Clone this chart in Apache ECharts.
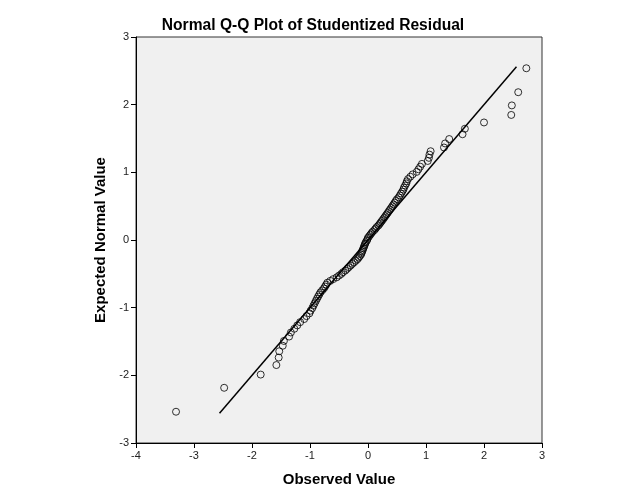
<!DOCTYPE html>
<html>
<head>
<meta charset="utf-8">
<script src="https://cdn.jsdelivr.net/npm/echarts@6/dist/echarts.min.js"></script>
<style>html,body{margin:0;padding:0;background:#fff}#c{width:629px;height:504px}</style>
</head>
<body>
<div id="c"></div>
<script>
// Observed studentized residuals (x), sorted ascending
var observed = [
 -3.31, -2.48, -1.85, -1.58, -1.54, -1.53, -1.47, -1.45, -1.36, -1.33,
 -1.27, -1.22, -1.17, -1.10, -1.06, -1.01, -0.99, -0.96, -0.94, -0.92,
 -0.90, -0.88, -0.86, -0.84, -0.82, -0.79, -0.76, -0.74, -0.72, -0.70,
 -0.65, -0.60, -0.54, -0.50, -0.46, -0.43, -0.39, -0.36, -0.33, -0.30,
 -0.27, -0.24, -0.21, -0.18, -0.16, -0.14, -0.12, -0.11, -0.10, -0.09,
 -0.08, -0.07, -0.06, -0.05, -0.04, -0.02, -0.01, 0.00, 0.02, 0.04,
 0.06, 0.08, 0.11, 0.13, 0.15, 0.18, 0.20, 0.22, 0.24, 0.26,
 0.28, 0.30, 0.32, 0.34, 0.36, 0.38, 0.40, 0.42, 0.44, 0.46,
 0.48, 0.50, 0.53, 0.55, 0.57, 0.59, 0.61, 0.62, 0.64, 0.66,
 0.67, 0.69, 0.73, 0.77, 0.84, 0.87, 0.90, 0.93, 1.03, 1.05,
 1.06, 1.08, 1.31, 1.33, 1.40, 1.63, 1.67, 2.00, 2.47, 2.48,
 2.59, 2.73
];
// Expected normal values (y), in the same order
var expected = [
 -2.538, -2.184, -1.989, -1.848, -1.737, -1.644, -1.563, -1.492, -1.427, -1.367,
 -1.312, -1.262, -1.214, -1.168, -1.125, -1.084, -1.045, -1.007, -0.970, -0.935,
 -0.901, -0.868, -0.836, -0.805, -0.774, -0.744, -0.715, -0.687, -0.659, -0.631,
 -0.604, -0.578, -0.552, -0.526, -0.501, -0.475, -0.451, -0.426, -0.401, -0.377,
 -0.353, -0.330, -0.306, -0.283, -0.260, -0.237, -0.214, -0.191, -0.168, -0.146,
 -0.123, -0.101, -0.078, -0.056, -0.034, -0.011, 0.011, 0.034, 0.056, 0.078,
 0.101, 0.123, 0.146, 0.168, 0.191, 0.214, 0.237, 0.260, 0.283, 0.306,
 0.330, 0.353, 0.377, 0.401, 0.426, 0.451, 0.475, 0.501, 0.526, 0.552,
 0.578, 0.604, 0.631, 0.659, 0.687, 0.715, 0.744, 0.774, 0.805, 0.836,
 0.868, 0.901, 0.935, 0.970, 1.007, 1.045, 1.084, 1.125, 1.168, 1.214,
 1.262, 1.312, 1.367, 1.427, 1.492, 1.563, 1.644, 1.737, 1.848, 1.989,
 2.184, 2.538
];
// Reference line endpoints
var refX = [-2.56, 2.56];
var refY = [-2.56, 2.56];
var xTicks = [-4, -3, -2, -1, 0, 1, 2, 3];
var yTicks = [-3, -2, -1, 0, 1, 2, 3];

var pts = observed.map(function (v, i) { return [v, expected[i]]; });
var ref = refX.map(function (v, i) { return [v, refY[i]]; });

var font = 'Liberation Sans, Arial, sans-serif';
var chart = echarts.init(document.getElementById('c'), null, {renderer: 'canvas'});
chart.setOption({
  animation: false,
  backgroundColor: '#ffffff',
  title: {
    text: 'Normal Q-Q Plot of Studentized Residual',
    left: 308, top: 13, textAlign: 'center',
    textStyle: {fontFamily: font, fontSize: 15.6, fontWeight: 'bold', color: '#000'}
  },
  grid: {
    left: 136, right: 87, top: 37, bottom: 61,
    show: true, backgroundColor: '#f0f0f0', borderColor: '#333', borderWidth: 1
  },
  xAxis: {
    type: 'value', min: xTicks[0], max: xTicks[xTicks.length - 1], interval: 1,
    name: 'Observed Value', nameLocation: 'middle', nameGap: 29,
    nameTextStyle: {fontFamily: font, fontSize: 15, fontWeight: 'bold', color: '#000'},
    axisLine: {show: true, onZero: false, lineStyle: {color: '#000', width: 1}},
    axisTick: {show: true, length: 5, lineStyle: {color: '#000'}},
    axisLabel: {fontFamily: font, fontSize: 11, color: '#222', margin: 7},
    splitLine: {show: false}
  },
  yAxis: {
    type: 'value', min: yTicks[0], max: yTicks[yTicks.length - 1], interval: 1,
    name: 'Expected Normal Value', nameLocation: 'middle', nameGap: 23,
    nameTextStyle: {fontFamily: font, fontSize: 15, fontWeight: 'bold', color: '#000'},
    axisLine: {show: true, onZero: false, lineStyle: {color: '#000', width: 1}},
    axisTick: {show: true, length: 5, lineStyle: {color: '#000'}},
    axisLabel: {fontFamily: font, fontSize: 11, color: '#222', margin: 7},
    splitLine: {show: false}
  },
  series: [
    {
      type: 'line', data: ref, showSymbol: false, symbol: 'none',
      lineStyle: {color: '#000', width: 1.5}, z: 2, silent: true
    },
    {
      type: 'scatter', data: pts, symbol: 'circle', symbolSize: 7,
      itemStyle: {color: 'rgba(0,0,0,0)', borderColor: '#000', borderWidth: 1},
      z: 3, silent: true
    }
  ]
});
</script>
</body>
</html>
